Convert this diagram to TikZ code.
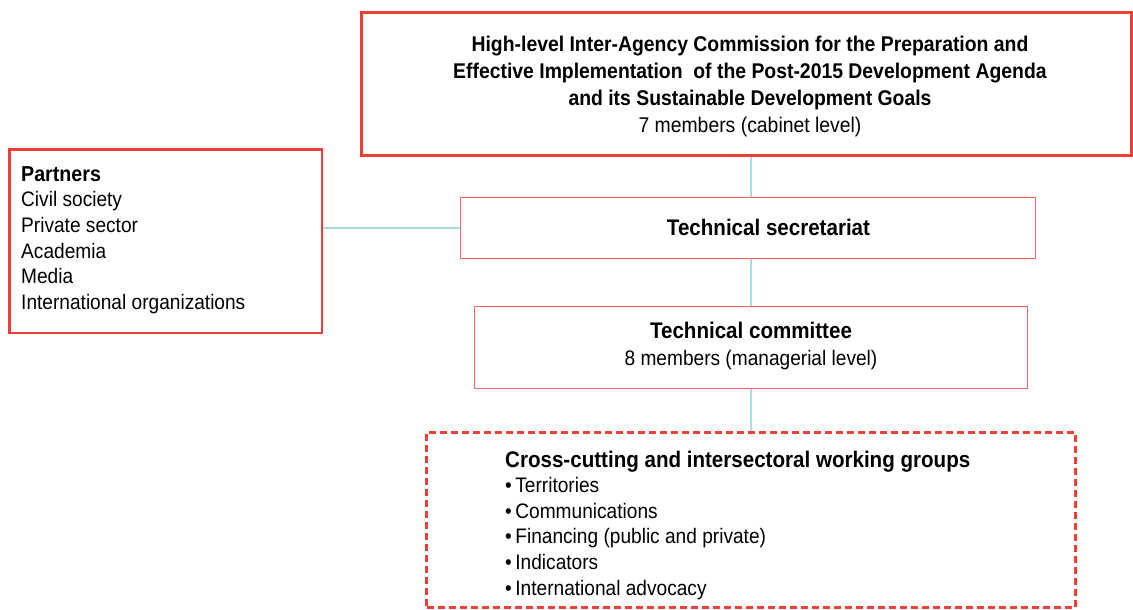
\documentclass[tikz,border=0pt]{standalone}
\usepackage{fontspec}
\setmainfont{Liberation Sans}[FakeStretch=0.91]
\definecolor{boxred}{HTML}{EE3F37}
\definecolor{lightred}{HTML}{F06A62}
\definecolor{linkblue}{HTML}{A9DCE4}
\newcommand{\headfont}{\fontsize{22.6}{25.6}\selectfont\bfseries}
\begin{document}
\begin{tikzpicture}[x=1pt,y=-1pt,
  box/.style={draw=boxred, line width=3pt, inner sep=0pt},
  thinbox/.style={draw=lightred, line width=1.6pt, inner sep=0pt},
  dashbox/.style={draw=boxred, line width=3pt, inner sep=0pt, dash pattern=on 7pt off 4pt},
  link/.style={draw=linkblue, line width=1.8pt},
  txt/.style={inner sep=0pt, font=\fontsize{21}{25.6}\selectfont}
]
\useasboundingbox (0,0) rectangle (1133,610);
% boxes
\node[box, minimum width=770pt, minimum height=142.5pt] (top) at (746.5,83.75) {};
\node[box, line width=2.5pt, minimum width=312.5pt, minimum height=183.5pt] (part) at (165.5,241) {};
\node[thinbox, minimum width=575pt, minimum height=61pt] (sec) at (748,228) {};
\node[thinbox, minimum width=553pt, minimum height=82pt] (com) at (751,347.5) {};
\node[dashbox, minimum width=648.5pt, minimum height=175pt] (wg) at (750.75,519.5) {};
% texts
\node[txt, align=center, font=\fontsize{21.3}{27.2}\selectfont] (toptxt) at (750,86.5)
  {\textbf{High-level Inter-Agency Commission for the Preparation and}\\
   \textbf{Effective Implementation\ \ of the Post-2015 Development Agenda}\\
   \textbf{and its Sustainable Development Goals}\\
   7 members (cabinet level)};
\node[txt, align=left, anchor=west] (parttxt) at (21,240)
  {{\fontsize{21.6}{25.6}\selectfont\bfseries Partners}\\Civil society\\Private sector\\Academia\\Media\\International organizations};
\node[txt, font=\headfont] (sectxt) at (768.5,227.5) {Technical secretariat};
\node[txt, align=center, font=\fontsize{21}{27}\selectfont] (comtxt) at (751,345.5)
  {{\headfont Technical committee}\\8 members (managerial level)};
\node[txt, align=left, anchor=west] (wgtxt) at (505,525)
  {{\headfont Cross-cutting and intersectoral working groups}\\
   \textbullet\,Territories\\\textbullet\,Communications\\\textbullet\,Financing (public and private)\\
   \textbullet\,Indicators\\\textbullet\,International advocacy};
% connectors
\draw[link] (top.south -| com.north) -- (sec.north -| com.north);
\draw[link] (sec.south -| com.north) -- (com.north);
\draw[link] (com.south) -- (wg.north -| com.south);
\draw[link] (part.east |- sec.west) -- (sec.west);
\end{tikzpicture}
\end{document}
